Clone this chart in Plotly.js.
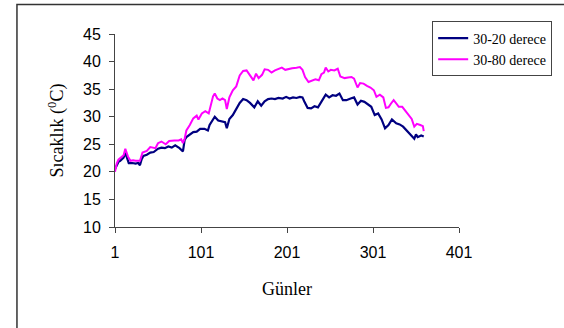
<!DOCTYPE html>
<html>
<head>
<meta charset="utf-8">
<script src="https://cdn.plot.ly/plotly-3.0.1.min.js"></script>
<style>html,body{margin:0;padding:0;background:#fff;overflow:hidden;}#chart{width:564px;height:328px;}</style>
</head>
<body>
<div id="chart"></div>
<script>
// Series "30-20 derece" (navy)
var days20 = [1,3,5,7,9,11,13,15,17,21,25,28,30,32,34,38,42,46,51,55,59,63,67,71,76,80,82,84,88,92,96,100,105,109,111,115,117,121,125,129,131,134,138,142,146,150,154,158,163,167,171,175,179,183,187,191,196,200,204,208,212,216,219,221,225,229,233,237,241,246,250,254,258,262,266,270,275,279,283,287,291,295,299,303,307,311,315,319,323,328,332,336,340,344,349,351,353,357,360];
var temp20 = [20.5,21.3,21.8,22.0,22.3,22.6,23.5,22.5,21.6,21.6,21.5,21.6,21.2,22.3,22.9,23.1,23.5,23.6,24.2,24.4,24.3,24.6,24.4,24.8,24.3,23.7,25.8,26.3,26.8,27.2,27.3,27.8,27.8,27.5,28.5,29.4,30.0,29.3,29.2,29.0,27.9,29.6,30.3,31.5,32.5,33.2,33.0,32.5,31.7,32.8,32.0,32.8,33.2,33.3,33.2,33.4,33.3,33.6,33.3,33.5,33.4,33.6,33.5,32.8,31.6,31.5,31.9,31.7,32.8,34.0,33.5,33.9,33.8,34.2,33.0,33.0,33.3,33.5,32.2,32.9,32.7,32.3,31.8,30.3,30.6,29.5,27.9,28.5,29.5,28.8,28.6,28.2,27.5,27.0,26.0,26.8,26.3,26.6,26.4];

// Series "30-80 derece" (magenta)
var days80 = [1,3,5,8,11,13,16,19,22,25,30,33,38,42,48,51,55,60,64,70,75,78,80,82,84,88,92,96,98,102,106,110,112,115,117,120,123,126,129,131,134,138,142,146,150,154,158,162,165,168,172,175,179,183,187,191,195,199,203,207,212,216,219,222,226,230,234,238,241,244,246,249,252,256,260,263,268,272,276,279,283,286,290,294,298,302,305,309,313,316,319,322,325,328,331,335,338,342,346,349,352,356,359,360];
var temp80 = [20.0,21.5,22.2,22.6,23.0,24.2,22.8,22.0,22.1,22.0,22.0,23.5,23.8,24.5,24.3,25.2,25.5,25.0,25.6,25.7,25.7,25.9,25.2,26.0,27.5,28.5,29.7,30.2,29.5,30.6,31.0,30.6,32.0,33.7,34.2,33.3,33.0,33.3,33.0,31.4,33.5,34.8,35.5,37.5,38.3,38.4,37.5,36.6,37.8,37.0,37.6,38.6,38.5,38.0,38.4,38.7,38.9,38.5,38.7,38.8,38.9,39.0,38.5,37.2,36.3,36.5,36.8,36.6,37.7,38.0,38.9,38.2,38.5,38.4,38.7,37.3,37.0,37.1,37.2,36.9,35.3,36.1,36.0,35.6,35.3,34.8,33.6,34.0,33.5,31.6,31.7,32.4,33.0,32.4,31.8,31.8,31.2,30.4,29.6,28.2,28.7,28.5,28.3,27.4];

var seriesNames = ["30-20 derece", "30-80 derece"];
var xTicks = [1, 101, 201, 301, 401];

var traces = [
  {x: days20, y: temp20, name: seriesNames[0], type: 'scatter', mode: 'lines',
   line: {color: '#000080', width: 2.2}},
  {x: days80, y: temp80, name: seriesNames[1], type: 'scatter', mode: 'lines',
   line: {color: '#FF00FF', width: 2}}
];

var layout = {
  width: 564, height: 328,
  margin: {l: 115, r: 102, t: 34, b: 101},
  paper_bgcolor: '#fff', plot_bgcolor: '#fff',
  showlegend: true,
  legend: {x: 0.922, xanchor: 'left', y: 1.065, yanchor: 'top',
    bordercolor: '#444', borderwidth: 1, bgcolor: '#fff',
    font: {family: 'Liberation Serif, Times New Roman, serif', size: 14, color: '#000'}},
  xaxis: {range: [1, 401], tickvals: xTicks, ticktext: xTicks.map(String),
    showline: true, linecolor: '#444', linewidth: 1, ticks: 'outside', ticklen: 5, tickcolor: '#444',
    showgrid: false, zeroline: false, ticklabelstandoff: 6,
    tickfont: {family: 'Liberation Sans, Arial, sans-serif', size: 16, color: '#000'},
    title: {text: 'Günler', standoff: 22,
      font: {family: 'Liberation Serif, Times New Roman, serif', size: 18, color: '#000'}}},
  yaxis: {range: [10, 45], dtick: 5, tick0: 10,
    showline: true, linecolor: '#444', linewidth: 1, ticks: 'outside', ticklen: 5, tickcolor: '#444',
    showgrid: false, zeroline: false, ticklabelstandoff: 5,
    tickfont: {family: 'Liberation Sans, Arial, sans-serif', size: 16, color: '#000'},
    title: {text: 'Sıcaklık (<sup>0</sup>C)', standoff: 14,
      font: {family: 'Liberation Serif, Times New Roman, serif', size: 18, color: '#000'}}},
  shapes: [{type: 'rect', xref: 'paper', yref: 'paper',
    x0: -0.285, x1: 1.6, y0: -0.8, y1: 1.153,
    line: {color: '#333', width: 1.5}, fillcolor: 'rgba(0,0,0,0)', layer: 'below'}]
};

Plotly.newPlot('chart', traces, layout, {displayModeBar: false, staticPlot: true});
</script>
</body>
</html>
